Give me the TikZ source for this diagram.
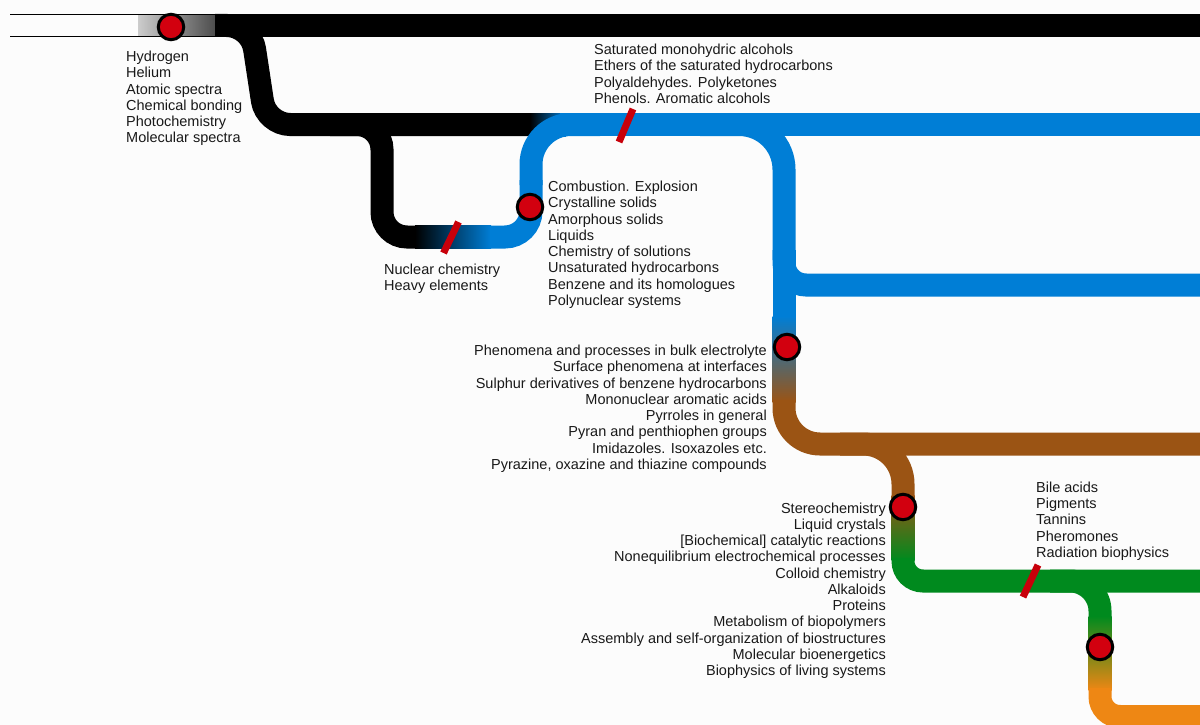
\documentclass[tikz,border=0pt]{standalone}
\usepackage{fontspec}
\setmainfont{Liberation Sans}
\definecolor{cblue}{RGB}{0,126,214}
\definecolor{cbrown}{RGB}{155,84,20}
\definecolor{cgreen}{RGB}{0,138,30}
\definecolor{corange}{RGB}{238,135,20}
\definecolor{cred}{RGB}{210,0,15}
\definecolor{cslash}{RGB}{200,0,10}
\definecolor{ctext}{RGB}{25,25,25}
\definecolor{cbg}{RGB}{252,252,252}
\tikzset{
  band/.style={line width=23pt},
  dot/.style={circle, fill=cred, draw=black, line width=3pt, minimum size=25.5pt, inner sep=0pt},
  slash/.style={draw=cslash, line width=7pt},
  lbl/.style={font=\fontsize{14.5}{16.25}\selectfont, inner sep=0pt, text=ctext},
}
\begin{document}
\begin{tikzpicture}[x=1pt,y=-1pt]
\fill[cbg] (0,0) rectangle (1200,725);
\useasboundingbox (0,0) rectangle (1200,725);

% top line
\shade[left color=black!20, right color=black!75] (138,15) rectangle (223,36);
\draw[line width=1.5pt] (10,14.5) -- (223,14.5);
\draw[line width=1.5pt] (10,36.5) -- (223,36.5);
\draw[band,black] (222,25.5) -- (1200,25.5);

% black branch to second band
\draw[band,black,rounded corners=24] (215,25.5) -- (251,25.5) -- (266,124.5) -- (536,124.5);
\shade[left color=black, right color=cblue] (530,113) rectangle (566,136);
\draw[band,cblue] (560,124.5) -- (1200,124.5);

% loop
\draw[band,black,rounded corners=25] (330,124.5) -- (382,124.5) -- (382,237) -- (416,237);
\shade[left color=black, right color=cblue] (415,225.5) rectangle (491,248.5);
\draw[band,cblue,rounded corners=26] (490,237) -- (531,237) -- (531,180);
\draw[band,cblue,rounded corners=40] (531,185) -- (531,124.5) -- (600,124.5);

% blue branches
\draw[band,cblue,rounded corners=45] (700,124.5) -- (784,124.5) -- (784,260);
\draw[band,cblue,rounded corners=22] (784,250) -- (784,285) -- (1200,285);
\draw[band,cblue] (784,250) -- (784,318);
\shade[top color=cblue,bottom color=cbrown] (772.5,316) rectangle (795.5,402);
\draw[band,cbrown,rounded corners=36] (784,400) -- (784,444) -- (1200,444);
\draw[band,cbrown,rounded corners=40] (840,444) -- (903,444) -- (903,497);
\shade[top color=cbrown,bottom color=cgreen] (891.5,495) rectangle (914.5,560);
\draw[band,cgreen,rounded corners=20] (903,558) -- (903,581) -- (1200,581);
\draw[band,cgreen,rounded corners=30] (1050,581) -- (1100,581) -- (1100,618);
\shade[top color=cgreen,bottom color=corange] (1088.5,616) rectangle (1111.5,690);
\draw[band,corange,rounded corners=20] (1100,688) -- (1100,716.5) -- (1200,716.5);

% slashes
\coordinate (s1a) at (443.5,253);
\coordinate (s1b) at (458.5,222);
\coordinate (s2a) at (619,142);
\coordinate (s2b) at (633,109);
\coordinate (s3a) at (1023,597);
\coordinate (s3b) at (1038,565);
\draw[slash] (s1a) -- (s1b);
\draw[slash] (s2a) -- (s2b);
\draw[slash] (s3a) -- (s3b);

% dots
\node[dot] (d1) at (171,27) {};
\node[dot] (d2) at (530,207) {};
\node[dot] (d3) at (787,347) {};
\node[dot] (d4) at (903,507) {};
\node[dot] (d5) at (1100,647) {};

% labels
\node[lbl, anchor=north west, align=left] (t1) at (126,51)
  {Hydrogen\\Helium\\Atomic spectra\\Chemical bonding\\Photochemistry\\Molecular spectra};
\node[lbl, anchor=north west, align=left] (t2) at (594,44)
  {Saturated monohydric alcohols\\Ethers of the saturated hydrocarbons\\Polyaldehydes. Polyketones\\Phenols. Aromatic alcohols};
\node[lbl, anchor=north west, align=left] (t3) at (548,181)
  {Combustion. Explosion\\Crystalline solids\\Amorphous solids\\Liquids\\Chemistry of solutions\\Unsaturated hydrocarbons\\Benzene and its homologues\\Polynuclear systems};
\node[lbl, anchor=north west, align=left] (t4) at (384,263.3)
  {Nuclear chemistry\\Heavy elements};
\node[lbl, anchor=north east, align=right] (t5) at (767,345)
  {Phenomena and processes in bulk electrolyte\\Surface phenomena at interfaces\\Sulphur derivatives of benzene hydrocarbons\\Mononuclear aromatic acids\\Pyrroles in general\\Pyran and penthiophen groups\\Imidazoles. Isoxazoles etc.\\Pyrazine, oxazine and thiazine compounds};
\node[lbl, anchor=north east, align=right] (t6) at (886,502.3)
  {Stereochemistry\\Liquid crystals\\{[Biochemical]} catalytic reactions\\Nonequilibrium electrochemical processes\\Colloid chemistry\\Alkaloids\\Proteins\\Metabolism of biopolymers\\Assembly and self-organization of biostructures\\Molecular bioenergetics\\Biophysics of living systems};
\node[lbl, anchor=north west, align=left] (t7) at (1036,481.7)
  {Bile acids\\Pigments\\Tannins\\Pheromones\\Radiation biophysics};
\end{tikzpicture}
\end{document}
